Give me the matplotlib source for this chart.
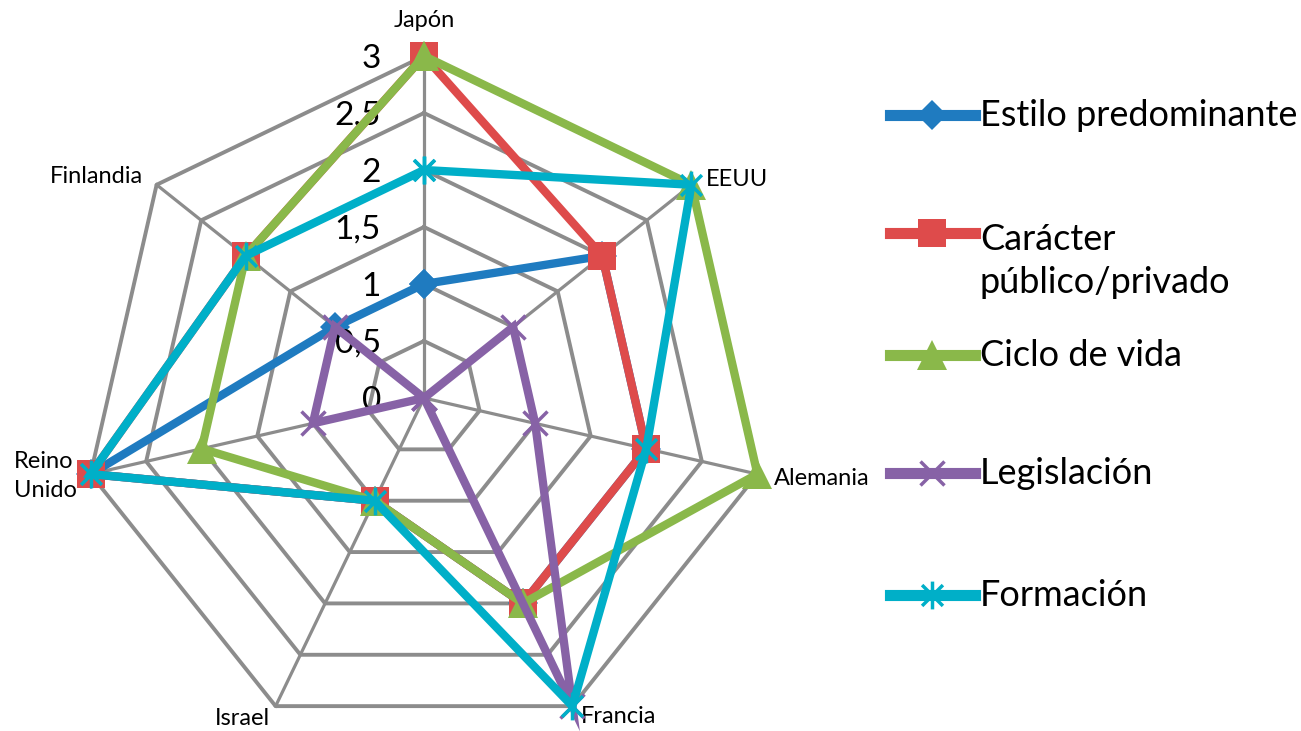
import numpy as np
import matplotlib
matplotlib.use('Agg')
import matplotlib.pyplot as plt
from matplotlib.lines import Line2D
from matplotlib.path import Path

plt.rcParams['font.family'] = ['Lato', 'DejaVu Sans']

# data
paises = ['Japón', 'EEUU', 'Alemania', 'Francia', 'Israel', 'Reino\nUnido', 'Finlandia']
estilo = [1, 2, 2, 2, 1, 3, 1]
caracter = [3, 2, 2, 2, 1, 3, 2]
ciclo = [3, 3, 3, 2, 1, 2, 2]
legislacion = [0, 1, 1, 3, 0, 1, 1]
formacion = [2, 3, 2, 3, 1, 3, 2]
niveles = [0, 0.5, 1, 1.5, 2, 2.5, 3]
nivel_labels = ['0', '0,5', '1', '1,5', '2', '2,5', '3']

series_names = ['Estilo predominante', 'Carácter\npúblico/privado', 'Ciclo de vida',
                'Legislación', 'Formación']
series_vals = [estilo, caracter, ciclo, legislacion, formacion]

# asterisk marker like excel's star
star = Path([(0, -1), (0, 1), (-0.75, -0.75), (0.75, 0.75), (-0.75, 0.75), (0.75, -0.75)],
            [Path.MOVETO, Path.LINETO, Path.MOVETO, Path.LINETO, Path.MOVETO, Path.LINETO])

colors = ['#1f7bc0', '#de4b4b', '#8ab84a', '#8762a6', '#00afc8']
markers = ['D', 's', '^', 'x', star]
msizes = [15, 20, 22, 17, 20]
line_marker = [False, False, False, True, True]

fig = plt.figure(figsize=(13.01, 7.31), dpi=100)
ax = fig.add_axes([0.06303, -0.01231, 0.52575, 0.93570], projection='polar')
ax.set_theta_offset(np.pi / 2)
ax.set_theta_direction(-1)
ax.set_ylim(0, 3)
ax.set_xticks([])
ax.set_yticks([])
ax.grid(False)
ax.spines['polar'].set_visible(False)
ax.patch.set_visible(False)

n = len(paises)
theta = np.arange(n) * 2 * np.pi / n
theta_c = np.append(theta, theta[0])

# heptagon grid
grid_col = '#8c8c8c'
for lv in niveles[1:]:
    ax.plot(theta_c, [lv] * (n + 1), color=grid_col, lw=2.8, zorder=1, clip_on=False)
for t in theta:
    ax.plot([t, t], [0, 3], color=grid_col, lw=2.3, zorder=1, clip_on=False)

# series
for i, vals in enumerate(series_vals):
    v = np.append(vals, vals[0])
    kw = dict(mew=2.5, fillstyle='none') if line_marker[i] else dict(mew=0)
    ax.plot(theta_c, v, color=colors[i], lw=6, marker=markers[i], ms=msizes[i],
            zorder=3 + i, clip_on=False, solid_joinstyle='miter', **kw)

# radial labels
for lv, lab in zip(niveles, nivel_labels):
    ax.annotate(lab, xy=(0, lv), xytext=(-43, -3), textcoords='offset pixels',
                ha='right', va='center', fontsize=24)

# category labels
offs = [(0, 36, 'center'), (14, 5, 'left'), (16, -4, 'left'), (8, -10, 'left'),
        (-6, -12, 'right'), (-14, -2, 'right'), (-14, 8, 'right')]
for t, lab, (dx, dy, ha) in zip(theta, paises, offs):
    ax.annotate(lab, xy=(t, 3), xytext=(dx, dy), textcoords='offset pixels',
                ha=ha, va='center', fontsize=17, multialignment='left',
                linespacing=1.45)

# legend drawn by hand
W, H = 1301, 731
leg_y = [115, 233, 355, 473, 595]
for i, name in enumerate(series_names):
    y = 1 - leg_y[i] / H
    kw = dict(mew=2.5, fillstyle='none') if line_marker[i] else dict(mew=0)
    fig.add_artist(Line2D([890 / W, 932 / W, 975 / W], [y, y, y], color=colors[i], lw=8,
                          marker=markers[i], ms=msizes[i], markevery=[1],
                          transform=fig.transFigure, **kw))
    if '\n' in name:
        fig.text(980 / W, 1 - 261 / H, name, ha='left', va='center', fontsize=26,
                 linespacing=1.4)
    else:
        fig.text(980 / W, y, name, ha='left', va='center', fontsize=26)

fig.savefig('out.png', dpi=100)
